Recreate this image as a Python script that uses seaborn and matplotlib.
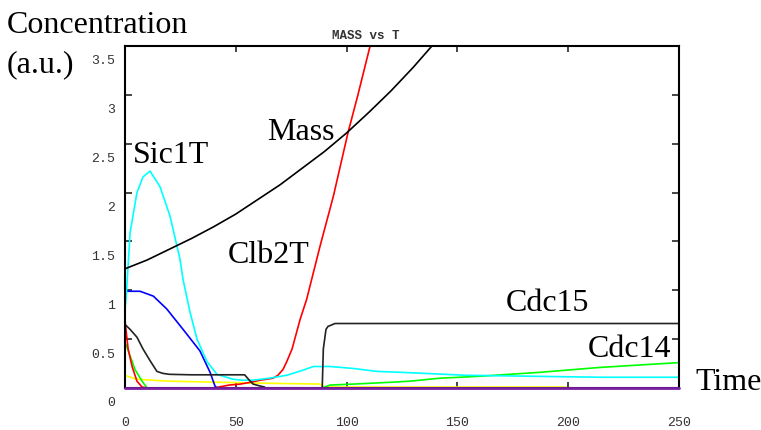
import matplotlib
matplotlib.use("Agg")
import matplotlib.pyplot as plt
import matplotlib.transforms as mtransforms
import seaborn as sns

# ---------------- data ----------------
t_sic1 = [0, 0.5, 2.3, 5.4, 8.1, 11.3, 15.8, 20.3, 24.8, 26.2, 29.3, 32.5, 37, 41.5,
          48.7, 53, 57.8, 65, 73, 80, 85, 92.5, 103, 113.7, 125, 154, 184, 215, 250]
v_sic1 = [0.80, 0.92, 1.59, 2.00, 2.16, 2.22, 2.06, 1.76, 1.32, 1.11, 0.78, 0.50, 0.27, 0.14,
          0.09, 0.08, 0.08, 0.10, 0.13, 0.18, 0.22, 0.22, 0.20, 0.17, 0.16, 0.13, 0.12, 0.11, 0.11]

t_mass = [0, 10, 20, 30, 40, 50, 60, 70, 80, 90, 100, 110, 120, 130, 138.5, 146]
v_mass = [1.22, 1.31, 1.42, 1.53, 1.65, 1.78, 1.93, 2.08, 2.25, 2.42, 2.61, 2.82, 3.04, 3.28, 3.50, 3.72]

t_clb2 = [0, 1.4, 3.2, 5.4, 7.7, 10, 40, 47, 52, 57, 61, 64, 66.8, 69, 71.3, 73, 75.4,
          79, 82, 88, 94, 100.6, 105, 110.6, 113]
v_clb2 = [0.69, 0.40, 0.22, 0.07, 0.01, 0.0, 0.0, 0.03, 0.04, 0.06, 0.08, 0.09, 0.10, 0.13, 0.19,
          0.27, 0.40, 0.70, 0.91, 1.45, 1.96, 2.61, 2.99, 3.50, 3.72]

t_blue = [0, 6.8, 12.8, 18.8, 26.2, 33.8, 38.4, 40.6, 41.5, 60]
v_blue = [0.99, 0.99, 0.94, 0.81, 0.60, 0.38, 0.16, 0.02, 0.0, 0.0]

t_blk2 = [0, 2.3, 5.4, 8.1, 11.3, 14.4, 17, 20, 30, 45, 54, 55.7, 57.8, 61, 63]
v_blk2 = [0.65, 0.60, 0.52, 0.40, 0.28, 0.17, 0.15, 0.14, 0.135, 0.135, 0.135, 0.09, 0.04, 0.02, 0.01]

t_cdc15 = [60, 89, 89.5, 90.7, 91.6, 94.8, 250]
v_cdc15 = [0.0, 0.0, 0.40, 0.60, 0.63, 0.66, 0.66]

t_cdc14 = [0, 2.3, 4.5, 7.7, 10, 89, 92.5, 103, 121, 128.6, 142, 160, 187, 214, 250]
v_cdc14 = [0.47, 0.33, 0.19, 0.07, 0.0, 0.0, 0.03, 0.04, 0.06, 0.07, 0.10, 0.12, 0.16, 0.21, 0.26]

t_yel = [0, 5, 20, 40, 60, 88, 90, 131, 199]
v_yel = [0.13, 0.09, 0.07, 0.06, 0.05, 0.04, 0.01, 0.01, 0.01]

t_pur = [0, 250]
v_pur = [0.0, 0.0]

x_ticks = [0, 50, 100, 150, 200, 250]
x_tick_labels = ["0", "50", "100", "150", "200", "250"]
y_ticks = [0, 0.5, 1, 1.5, 2, 2.5, 3, 3.5]
y_tick_labels = ["0", "0.5", "1", "1.5", "2", "2.5", "3", "3.5"]

# ---------------- figure ----------------
sns.set_style("white")
plt.rcParams['font.family'] = ['Liberation Serif', 'DejaVu Serif']

W, H = 761, 431
fig = plt.figure(figsize=(W / 100, H / 100), dpi=100)
fig.patch.set_facecolor("white")
ax = fig.add_axes([125 / W, 1 - 389 / H, (679 - 125) / W, (389 - 47) / H])

series = [
    (t_yel, v_yel, "#ffff00", 1.2),
    (t_cdc14, v_cdc14, "#00ff00", 1.2),
    (t_clb2, v_clb2, "#ff0000", 1.2),
    (t_blue, v_blue, "#0000ff", 1.2),
    (t_sic1, v_sic1, "#00ffff", 1.2),
    (t_blk2, v_blk2, "#222222", 1.2),
    (t_cdc15, v_cdc15, "#222222", 1.2),
    (t_mass, v_mass, "#000000", 1.2),
]
for t, v, c, lw in series:
    sns.lineplot(x=t, y=v, color=c, linewidth=lw, ax=ax, estimator=None, sort=False)

# bottom purple trace drawn above the spine
sns.lineplot(x=t_pur, y=v_pur, color="#7a1fa2", linewidth=2.0, ax=ax,
             estimator=None, sort=False, zorder=3, clip_on=False)

ax.set_xlim(0, 250)
ax.set_ylim(0, 3.5)
ax.set_xlabel("")
ax.set_ylabel("")
ax.set_xticks(x_ticks)
ax.set_xticklabels(x_tick_labels, fontfamily="Liberation Mono", fontsize=9.5, color="#333333")
ax.set_yticks(y_ticks)
ax.set_yticklabels(y_tick_labels, fontfamily="Liberation Mono", fontsize=9.5, color="#333333")
ax.tick_params(axis="x", direction="in", top=True, bottom=True, length=4, width=1.2, pad=20)
ax.tick_params(axis="y", direction="in", left=True, right=True, length=5, width=1.2, pad=7)
offset = mtransforms.ScaledTranslation(0, -13 / 100, fig.dpi_scale_trans)
for lab in ax.get_yticklabels():
    lab.set_transform(lab.get_transform() + offset)
for s in ax.spines.values():
    s.set_visible(True)
    s.set_color("black")
    s.set_linewidth(1.5)

# title and annotations
fig.text(366 / W, 1 - 36 / H, "MASS vs T", ha="center", va="center",
         fontfamily="Liberation Mono", fontsize=9, fontweight="bold", color="#333333")

labels = [
    ("Concentration", 7, 33),
    ("(a.u.)", 7, 72),
    ("Sic1T", 133, 163),
    ("Mass", 267, 140),
    ("Clb2T", 228, 263),
    ("Cdc15", 506, 311),
    ("Cdc14", 588, 357),
    ("Time", 695, 390),
]
for txt, x, y in labels:
    fig.text(x / W, 1 - y / H, txt, ha="left", va="baseline", fontsize=23, color="black")

fig.savefig("out.png", dpi=100, facecolor="white")
